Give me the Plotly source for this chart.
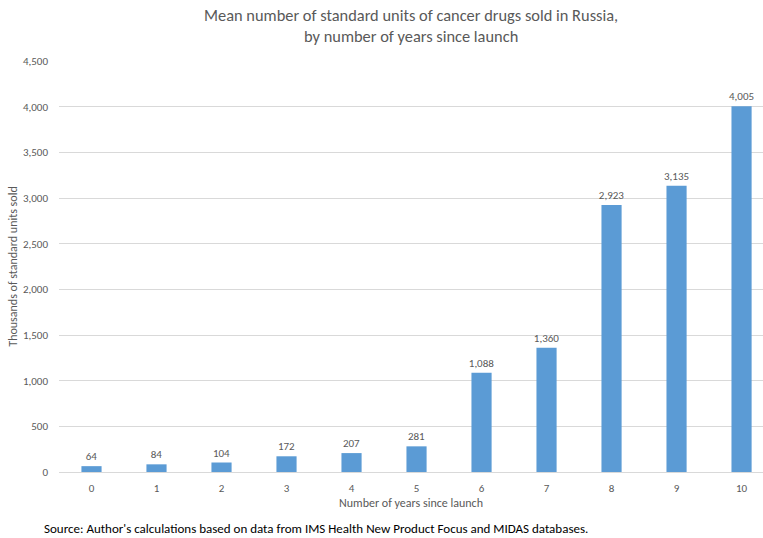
import plotly.graph_objects as go

years = list(range(11))
units_sold = [64, 84, 104, 172, 207, 281, 1088, 1360, 2923, 3135, 4005]
y_ticks = [0, 500, 1000, 1500, 2000, 2500, 3000, 3500, 4000, 4500]
title_lines = [
    "Mean number of standard units of cancer drugs sold in Russia,",
    "by number of years since launch",
]
source_note = "Source: Author's calculations based on data from IMS Health New Product Focus and MIDAS databases."

FONT = "Carlito, Calibri, 'Liberation Sans Narrow', 'DejaVu Sans Condensed', 'Noto Sans', sans-serif"
GREY = "#595959"

fig = go.Figure(
    go.Bar(
        x=years,
        y=units_sold,
        marker=dict(color="#5b9bd5", line=dict(width=0)),
        text=[f"{v:,}" for v in units_sold],
        textposition="outside",
        constraintext="none",
        textfont=dict(size=11, color=GREY, family=FONT),
        cliponaxis=False,
    )
)

# two title lines placed individually for tighter line spacing
title_annotations = [
    dict(
        text=line,
        xref="paper",
        yref="paper",
        x=0.5,
        y=ypos,
        xanchor="center",
        yanchor="middle",
        showarrow=False,
        font=dict(size=16.4, color=GREY, family=FONT),
    )
    for line, ypos in zip(title_lines, [1.1119, 1.0608])
]

fig.update_layout(
    width=763,
    height=538,
    margin=dict(l=58.5, r=0, t=61, b=66),
    paper_bgcolor="white",
    plot_bgcolor="white",
    bargap=0.69,
    showlegend=False,
    font=dict(family=FONT, color=GREY),
    xaxis=dict(
        range=[-0.5, 10.33],
        tickvals=years,
        ticktext=[str(y) for y in years],
        tickfont=dict(size=11, color=GREY),
        showgrid=False,
        showline=True,
        linecolor="#d9d9d9",
        linewidth=1,
        ticks="",
        ticklabelstandoff=6,
        title=dict(text="Number of years since launch", font=dict(size=12, color=GREY), standoff=4),
    ),
    yaxis=dict(
        range=[0, 4500],
        tickvals=y_ticks,
        ticktext=[f"{v:,}" for v in y_ticks],
        tickfont=dict(size=11, color=GREY),
        showgrid=True,
        gridcolor="#d9d9d9",
        gridwidth=1,
        zeroline=False,
        ticks="",
        ticklabelstandoff=10,
        title=dict(text="Thousands of standard units sold", font=dict(size=12, color=GREY), standoff=2),
    ),
    annotations=title_annotations + [
        dict(
            text=source_note,
            xref="paper",
            yref="paper",
            x=-0.0235,
            y=-0.1363,
            xanchor="left",
            yanchor="middle",
            showarrow=False,
            font=dict(size=13, color="#000000", family=FONT),
        ),
    ],
)

fig.write_html("out.html")
